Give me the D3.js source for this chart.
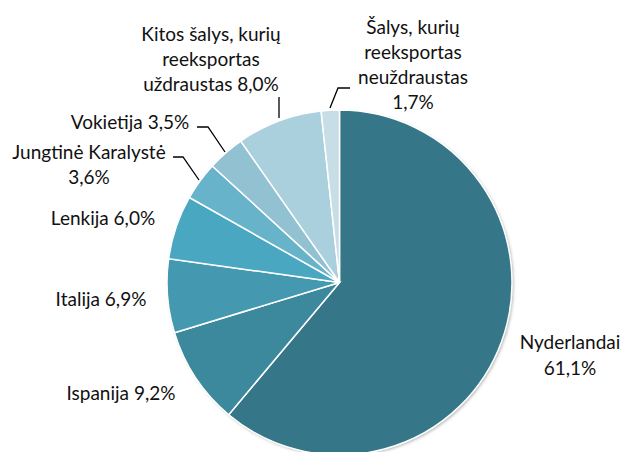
<!DOCTYPE html>
<html>
<head>
<meta charset="utf-8">
<script src="https://cdn.jsdelivr.net/npm/d3@7"></script>
<style>
  body { margin: 0; background: #fff; }
  text { font-family: Lato, "Noto Sans", sans-serif; font-size: 19px; fill: #111; }
</style>
</head>
<body>
<svg width="625" height="452"></svg>
<script>
// shares of export, clockwise from 12 o'clock
var countries = ["Nyderlandai", "Ispanija", "Italija", "Lenkija", "Jungtinė Karalystė",
                 "Vokietija", "Kitos šalys, kurių reeksportas uždraustas", "Šalys, kurių reeksportas neuždraustas"];
var shares = [61.1, 9.2, 6.9, 6.0, 3.6, 3.5, 8.0, 1.7];
var colors = ["#357789", "#3c889c", "#4499b1", "#4aa7c1", "#67b3c9", "#92c1d2", "#abd0dd", "#c7dee7"];
// label lines as printed in the chart
var labelLines = [
  ["Nyderlandai", "61,1%"],
  ["Ispanija 9,2%"],
  ["Italija 6,9%"],
  ["Lenkija 6,0%"],
  ["Jungtinė Karalystė", "3,6%"],
  ["Vokietija 3,5%"],
  ["Kitos šalys, kurių", "reeksportas", "uždraustas 8,0%"],
  ["Šalys, kurių", "reeksportas", "neuždraustas", "1,7%"]
];

var svg = d3.select("svg"),
    cx = 339.5, cy = 282.5, r = 172.5;

var defs = svg.append("defs");
var f = defs.append("filter").attr("id", "shadow")
    .attr("x", "-10%").attr("y", "-10%").attr("width", "120%").attr("height", "120%");
f.append("feDropShadow").attr("dx", 1.5).attr("dy", 1.5).attr("stdDeviation", 1.5)
    .attr("flood-color", "#000").attr("flood-opacity", 0.3);

var data = countries.map(function(c, i) { return {name: c, value: shares[i], color: colors[i], lines: labelLines[i]}; });

var pie = d3.pie().sort(null).value(function(d) { return d.value; });
var arc = d3.arc().innerRadius(0).outerRadius(r);
var arcs = pie(data);

var g = svg.append("g").attr("transform", "translate(" + cx + "," + cy + ")");

g.append("circle").attr("r", r).attr("fill", "#fff").attr("filter", "url(#shadow)");

g.selectAll("path")
  .data(arcs)
  .enter().append("path")
    .attr("d", arc)
    .attr("fill", function(d) { return d.data.color; })
    .attr("stroke", "#fff")
    .attr("stroke-width", 1.5);

// label centres (x, first line centre y) and line height
var labelPos = [
  [570, 342], [121, 393], [101, 299], [103, 218], [89, 152], [130, 122], [211, 34], [413, 27]
];
var lh = 25;

svg.selectAll("text.lbl")
  .data(data)
  .enter().append("text")
    .attr("class", "lbl")
    .attr("text-anchor", "middle")
    .each(function(d, i) {
      var t = d3.select(this);
      d.lines.forEach(function(s, j) {
        t.append("tspan")
          .attr("x", labelPos[i][0])
          .attr("y", labelPos[i][1] + j * (i == 0 ? 26 : lh))
          .attr("dy", "0.35em")
          .text(s);
      });
    });

// leader lines
var leaders = [
  [[279, 97], [279, 118]],
  [[350, 88], [338, 88], [330, 108]],
  [[197, 127], [208, 127], [225, 152]],
  [[173, 157], [183, 157], [199, 180]]
];
svg.selectAll("path.leader")
  .data(leaders)
  .enter().append("path")
    .attr("class", "leader")
    .attr("d", d3.line())
    .attr("fill", "none")
    .attr("stroke", "#000")
    .attr("stroke-width", 1.3);
</script>
</body>
</html>
